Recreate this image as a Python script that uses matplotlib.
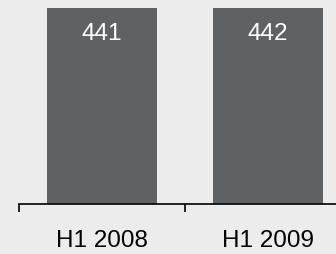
import matplotlib.pyplot as plt

categories = ['H1 2008', 'H1 2009']
values = [441, 442]

bg = '#ebeceb'
bar_color = '#5f6265'

fig = plt.figure(figsize=(3.36, 2.54), dpi=100)
fig.patch.set_facecolor(bg)
ax = fig.add_axes([19 / 336, 50.5 / 254, 332 / 336, 195.5 / 254])
ax.set_facecolor(bg)

x = list(range(len(categories)))
ax.bar(x, values, width=0.66, color=bar_color)
ax.set_xlim(-0.5, 1.5)
ax.set_ylim(0, 442)

# valeurs en blanc en haut des barres
for xi, v in zip(x, values):
    ax.annotate(str(v), (xi, v), xytext=(0, -26), textcoords='offset pixels',
                ha='center', va='center', color='white', fontsize=17.5,
                family='Liberation Sans')

for s in ['top', 'right', 'left']:
    ax.spines[s].set_visible(False)
ax.spines['bottom'].set_linewidth(1.2)
ax.set_yticks([])

ax.set_xticks([-0.5, 0.5, 1.5])
ax.set_xticklabels([])
ax.tick_params(axis='x', which='major', length=6, width=1.2, direction='out')
ax.set_xticks(x, minor=True)
ax.set_xticklabels(categories, minor=True, fontsize=17.5, family='Liberation Sans')
ax.tick_params(axis='x', which='minor', length=0, pad=19)

fig.savefig('out.png', dpi=100, facecolor=bg)
